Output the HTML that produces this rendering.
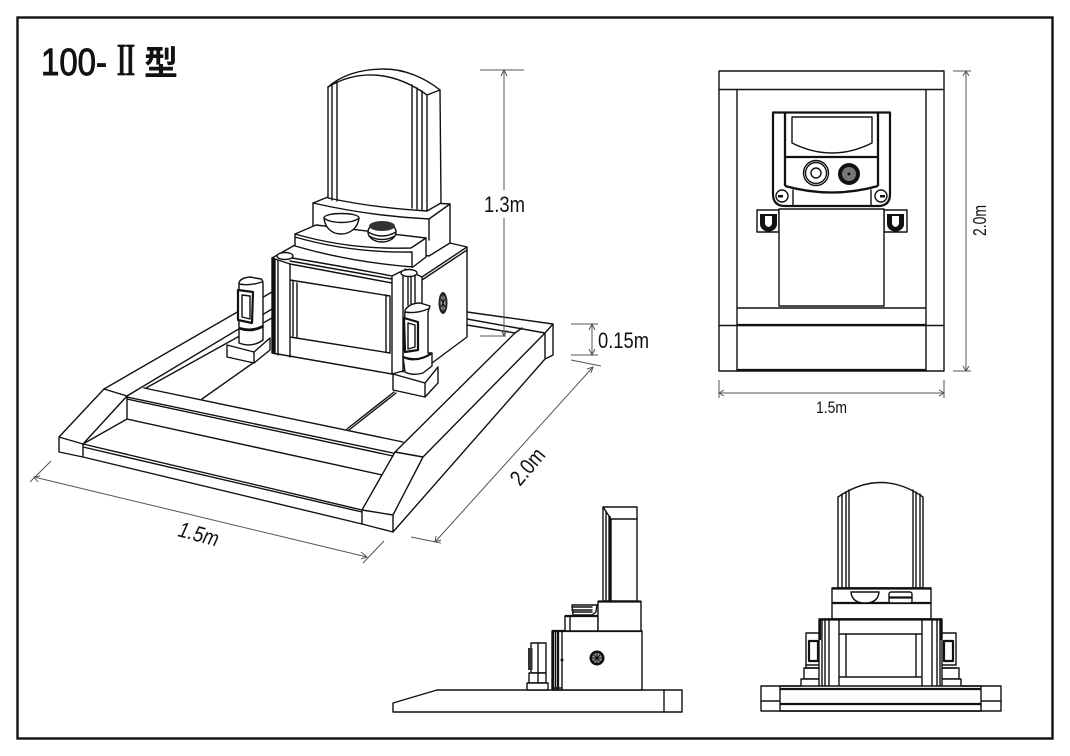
<!DOCTYPE html>
<html><head><meta charset="utf-8"><style>
html,body{margin:0;padding:0;background:#fff;width:1070px;height:756px;overflow:hidden}
svg{display:block}
text{font-family:"Liberation Sans","Noto Sans CJK JP",sans-serif;fill:#111}
.l{fill:none;stroke:#111;stroke-width:1.4;stroke-linejoin:round;stroke-linecap:round}
.w{fill:#fff;stroke:#111;stroke-width:1.4;stroke-linejoin:round}
.t{fill:none;stroke:#111;stroke-width:2.3}
.d{fill:none;stroke:#555;stroke-width:1}
.h{fill:none;stroke:#555;stroke-width:1}
</style></head><body>
<svg width="1070" height="756" viewBox="0 0 1070 756" xmlns="http://www.w3.org/2000/svg">
<rect x="17.5" y="17.5" width="1035" height="721" fill="#fff" stroke="#111" stroke-width="2.4"/>
<text font-size="38" y="75" stroke="#111" stroke-width="0.9"><tspan x="41" textLength="66" lengthAdjust="spacingAndGlyphs">100-</tspan></text>
<text transform="translate(114 75) scale(1 1.25)" font-size="32" font-weight="bold" stroke="#111" stroke-width="0.6" textLength="24" lengthAdjust="spacingAndGlyphs" style="font-family:'Noto Serif CJK SC','Liberation Serif',serif">Ⅱ</text>
<text font-size="34" y="75" font-weight="bold" x="144">型</text>

<!-- perspective: ground -->
<path class="l" d="M59 437L104 389L272 292M127 396L272 309M146 388L272 318M104 389L127 396M59 437V452L83 457V444L59 437M83 444L127 396M83 444L362 510V524L83 457M83 447L362 512"/>
<path class="l" d="M362 510L393 515V532L362 524M393 532L545 359V333L553 324V355L545 359M393 515L423 457M395 452L423 457M362 510L395 452M423 457L545 333M395 452L515 333L522 328M467 319L545 333M467 312L553 324M467 325L515 333"/>
<path class="l" d="M127 397L393 453M127 399L393 456M127 397V419L382 475M83 444L127 419M144 388L403 442M202 399L253 363M347 429L394 392M349 430L396 393"/>

<!-- left vase -->
<path class="w" d="M227 345L254 352L270 338V350L254 363L227 357Z"/>
<path class="l" d="M254 352V363"/>
<path class="w" d="M239 283Q240 278 250 277L261 279Q263 280 263 284V328L263 340Q252 348 239 343V328Z"/>
<path class="l" d="M239 284Q250 286 262 282M239 329Q252 333 263 327"/>
<path class="t" d="M239 328Q252 332 263 326"/>
<path class="w" style="stroke-width:2.2" d="M238 290L253 292L252 323L238 320Z"/>
<path class="w" d="M242 295L250 296V319L242 317Z"/>

<!-- body -->
<path class="w" d="M272 258L295 245L450 243L467 247V337L432 363L392 374L272 353Z"/>
<path class="l" d="M272 258L290 264M292 258Q340 266 392 276M290 261Q340 270 392 279M392 276L402 271M422 277L467 247M422 280L467 250M405 269L422 277M275 259V354M278 260V355M290 264V357M392 276V374M403 273V372M290 264L392 283M290 280L390 296M290 337L390 353M297 283V337M293 281V336M386 295V352M390 296V353M422 277V303"/>
<path class="t" d="M273.5 259V353"/>
<path class="l" d="M408 275V305M411 275V305M415 275V305"/>
<ellipse class="w" cx="285" cy="256" rx="8" ry="3.500"/>
<ellipse class="w" cx="409" cy="273" rx="8" ry="3.500"/>
<ellipse cx="443" cy="303" rx="4.500" ry="11" fill="#222"/>
<ellipse cx="443" cy="303" rx="2.500" ry="8" fill="#aaa"/>
<path d="M443 295V311M441 299L445 307M445 299L441 307" stroke="#111" stroke-width="1" fill="none"/>

<!-- upper base -->
<path class="w" d="M313 203L328 197L450 204V243L429 256L313 235Z"/>
<path class="l" d="M313 203Q370 216 429 219V240M429 219L450 204"/>
<!-- tier -->
<path class="w" d="M295 234L316 225L426 238V257L413 267Q350 262 295 246Z"/>
<path class="l" d="M295 234Q350 250 411 248L426 238M295 237Q350 253 412 252V267"/>
<!-- stele -->
<path class="w" d="M328 87C345 72 368 69 384 69C405 69 425 78 440 90L441 203L427 211Q375 208 328 198Z"/>
<path class="l" d="M328 87C360 68 395 72 427 95L440 90M332 84V200M337 82V201M412 85V208M417 88V209M422 91V210M427 95V211"/>
<!-- bowl -->
<path class="w" d="M324 218C324 212 359 212 359 218C358 228 350 234 341 234C332 234 325 228 324 218Z"/>
<path class="l" d="M324 218C330 224 353 224 359 218"/>
<!-- incense -->
<ellipse class="w" cx="382" cy="232" rx="14" ry="10"/>
<ellipse cx="382" cy="226" rx="13" ry="5" fill="#333"/>
<path class="l" d="M368 232Q382 240 396 232M369 236Q382 243 395 236"/>

<!-- right vase -->
<path class="w" d="M393 374L425 383L438 367V383L425 397L393 390Z"/>
<path class="l" d="M425 383V397"/>
<path class="w" d="M405 310Q410 303 420 303L430 306L428 312V353L432 353V366L423 373Q412 376 405 372L403 357Z"/>
<path class="l" d="M405 312Q416 314 428 309"/>
<path class="t" d="M403 357Q418 363 432 353"/>
<path class="w" style="stroke-width:2.2" d="M404 318L418 322V350L405 352Z"/>
<path class="w" d="M408 323L415 325V347L408 349Z"/>

<!-- dims perspective -->
<path class="d" d="M480 70H524M504 70V190M504 218V336M480 336H506M571 324H598M571 355H598M592 324V355M571 360L601 366M411 537L441 543M593 367L435 542M34 477L367 557M51 461L30 482M384 541L363 563"/>
<path class="h" d="M501 76L504 70L507 76M501 330L504 336L507 330M589 330L592 324L595 330M589 349L592 355L595 349M587 369L593 367L591 373M436 536L435 542L441 540M40 476L34 477L38 482M361 552L367 557L361 559"/>
<text x="484" y="212" font-size="22" textLength="41" lengthAdjust="spacingAndGlyphs">1.3m</text>
<text x="598" y="348" font-size="22" textLength="51" lengthAdjust="spacingAndGlyphs">0.15m</text>
<text transform="translate(520 487) rotate(-50)" font-size="22" textLength="41" lengthAdjust="spacingAndGlyphs">2.0m</text>
<text transform="translate(177 536) rotate(15)" font-size="22" font-style="italic" textLength="41" lengthAdjust="spacingAndGlyphs">1.5m</text>

<!-- plan -->
<rect class="w" x="719" y="71" width="225" height="300"/>
<path class="l" d="M719 89.500H944M737 89.500V371M926 89.500V371M737 308H926M719 325.500H944"/>
<path class="t" d="M737 370H926M737 325H926"/>
<rect class="w" x="757" y="210" width="22" height="22"/>
<rect class="w" x="884" y="210" width="23" height="22"/>
<path d="M760 214H777V224Q777 230 768.500 232Q760 230 760 224Z" fill="#111"/><path d="M765 216H772V223Q772 226 768.500 227Q765 226 765 223Z" fill="#fff"/>
<path d="M887 214H904V224Q904 230 895.500 232Q887 230 887 224Z" fill="#111"/><path d="M892 216H899V223Q899 226 895.500 227Q892 226 892 223Z" fill="#fff"/>
<rect class="w" x="779" y="209" width="105" height="97"/>
<path class="w" style="stroke-width:2.2" d="M773 112.500H890V194Q890 206 878 206H785Q773 206 773 194Z"/>
<path class="t" d="M785 113V186M878 113V186M785 157H878"/>
<path class="t" d="M785 186Q832 199 878 186"/>
<path class="l" d="M792 117H872V143Q832 163 792 143ZM793 190V206M871 190V206"/>
<circle class="l" cx="816" cy="173" r="12.500"/><circle class="l" cx="816" cy="173" r="10.500"/><circle class="l" cx="816" cy="173" r="5"/>
<circle cx="849" cy="174" r="11" fill="#111"/><circle cx="849" cy="174" r="7" fill="#777"/><circle cx="849" cy="174" r="1.500" fill="#111"/>
<circle class="l" cx="782" cy="196" r="6"/><rect x="778" y="195" width="5" height="2.500" fill="#111"/>
<circle class="l" cx="881" cy="196" r="6"/><rect x="880" y="195" width="5" height="2.500" fill="#111"/>
<path class="d" d="M953 71H971M953 371H971M966 71V371M719 380V398M944 380V398M719 393H944"/>
<path class="h" d="M963 76L966 71L969 76M963 366L966 371L969 366M724 390L719 393L724 396M939 390L944 393L939 396"/>
<text transform="translate(986 236) rotate(-90)" font-size="18" textLength="31" lengthAdjust="spacingAndGlyphs">2.0m</text>
<text x="816" y="413" font-size="17" textLength="31" lengthAdjust="spacingAndGlyphs">1.5m</text>

<!-- side view -->
<path class="w" d="M393 703L437 690H682V712H393Z"/>
<path class="l" d="M664 690V712"/>
<path class="w" d="M552 631H642V690H552Z"/>
<path class="t" d="M552 631H642M553 631V690M558 631V690"/>
<path class="l" d="M555.500 631V690M562 631V690M552 688H562"/>
<circle cx="562" cy="660" r="1.500" fill="#111"/>
<circle cx="597" cy="658" r="7.500" fill="#111"/><circle cx="597" cy="658" r="5" fill="#999"/><path d="M592 658H602M597 653V663M593.500 654.500L600.500 661.500M600.500 654.500L593.500 661.500" stroke="#111" stroke-width="1" fill="none"/>
<path class="w" d="M565 631V616H598V631Z"/>
<path class="l" d="M570 616V631"/>
<path class="w" d="M598 631V601.500H641V631Z"/>
<path class="t" d="M598 601.500H641M565 616H598"/>
<path class="w" d="M603 507H637V601H603Z"/>
<path class="l" d="M603 507L611 519H637M606 511V601M611 519V601"/>
<path class="t" d="M609.500 516V601"/>
<path class="w" d="M572 605H597L596 612L592 615H573Z"/>
<path class="l" d="M572 607H592M572 610H592M573 612H592"/>
<path class="w" d="M531 643H546V673H531Z"/>
<path class="w" d="M529 673H546V683H529Z"/>
<path class="w" d="M527 683H548V690H527Z"/>
<path class="l" d="M538 643V683"/>
<rect x="528" y="648" width="4.500" height="22" fill="#333"/>

<!-- front view -->
<path class="w" d="M838 497Q881 468 923 497V588H838Z"/>
<path class="l" d="M842 494V588M846 492V588M849 490V588M913 490V588M916 492V588M920 494V588"/>
<path class="w" d="M832 588H931V619H832Z"/>
<path class="t" d="M832 588.500H931M832 603H931"/>
<path class="w" d="M851 592H879Q878 603 865 603Q852 603 851 592Z"/>
<rect class="w" x="889" y="592" width="23" height="11" rx="2"/>
<path class="t" d="M889 597.500H912"/>
<path class="w" d="M806 633H822V665H806Z"/><rect class="w" x="809" y="641" width="9" height="20" style="stroke-width:2.200"/>
<rect class="w" x="804" y="668" width="18" height="11"/><rect class="w" x="801" y="679" width="24" height="9"/>
<path class="l" d="M806 665V668H822"/>
<path class="w" d="M941 633H956V665H941Z"/><rect class="w" x="944" y="641" width="9" height="20" style="stroke-width:2.200"/>
<rect class="w" x="941" y="668" width="18" height="11"/><rect class="w" x="937" y="679" width="24" height="9"/>
<path class="l" d="M941 665V668H956"/>
<path class="w" d="M819 619H942V688H819Z"/>
<path class="t" d="M819 619.500H942M820 620V640M941 620V640"/>
<path class="l" d="M822 619V688M825 619V688M829 619V688M839 619V688M922 619V688M932 619V688M937 619V688M940 619V688M839 634H922M839 677H922M846 634V677M916 634V677"/>
<rect class="w" x="761" y="686" width="240" height="25"/>
<path class="l" d="M780 686V711M981 686V711M761 701H780M981 701H1001M780 686H801M961 686H981"/>
<path class="t" d="M780 689H981M780 704H981"/>
<path class="l" d="M780 711H981"/>
</svg>
</body></html>
